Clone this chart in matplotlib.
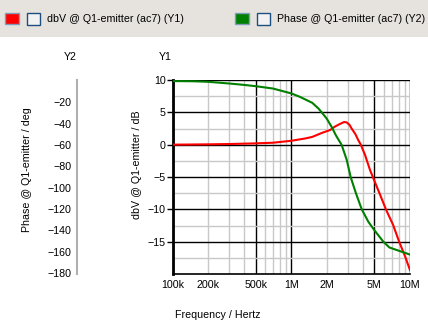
import matplotlib
matplotlib.use("Agg")
import matplotlib.pyplot as plt
from matplotlib.patches import Rectangle
from matplotlib.ticker import FixedLocator, FuncFormatter, NullFormatter

# dB curve (Y1)
freq_db = [1e5, 2e5, 3e5, 5e5, 7e5, 1e6, 1.3e6, 1.5e6, 1.8e6, 2.12e6, 2.32e6,
           2.56e6, 2.78e6, 2.93e6, 3.1e6, 3.22e6, 3.46e6, 3.66e6, 3.85e6, 4.18e6,
           4.6e6, 5e6, 5.6e6, 6.3e6, 7.2e6, 8.1e6, 9.1e6, 1e7]
dbv = [0.0, 0.05, 0.1, 0.2, 0.3, 0.6, 0.95, 1.2, 1.8, 2.26, 2.78,
       3.19, 3.5, 3.44, 3.03, 2.5, 1.65, 0.72, 0.0, -1.6,
       -3.9, -5.55, -7.76, -10.1, -12.4, -15.0, -17.3, -19.4]

# phase curve (Y2)
freq_ph = [1e5, 1.5e5, 2e5, 3e5, 4e5, 5e5, 7e5, 1e6, 1.18e6, 1.5e6, 1.69e6,
           1.8e6, 1.98e6, 2.18e6, 2.39e6, 2.65e6, 2.93e6, 3.16e6, 3.5e6, 3.92e6,
           4.45e6, 5e6, 5.96e6, 6.7e6, 8.2e6, 1e7]
phase = [0.0, -0.2, -0.7, -2.3, -3.6, -4.8, -7.0, -11.6, -14.8, -20.4, -25.7,
         -29.3, -35.0, -42.8, -51.5, -59.7, -74.0, -90.0, -105.2, -120.3,
         -131.9, -139.8, -150.7, -156.1, -159.5, -162.8]

x_major = [1e5, 5e5, 1e6, 5e6, 1e7]
x_minor = [2e5, 3e5, 4e5, 6e5, 7e5, 8e5, 9e5, 2e6, 3e6, 4e6, 6e6, 7e6, 8e6, 9e6]
x_labels = {1e5: "100k", 2e5: "200k", 5e5: "500k", 1e6: "1M", 2e6: "2M", 5e6: "5M", 1e7: "10M"}
y1_ticks = [-15, -10, -5, 0, 5, 10]
y1_minor = [-17.5, -12.5, -7.5, -2.5, 2.5, 7.5]
y2_ticks = [-20, -40, -60, -80, -100, -120, -140, -160, -180]

W, H = 428, 327
plt.rcParams["font.family"] = ["Liberation Sans", "DejaVu Sans"]
plt.rcParams["font.size"] = 7.7
fig = plt.figure(figsize=(W / 100, H / 100), dpi=100)


def fx(px):
    return px / W


def fy(py):
    return 1 - py / H


# legend band
fig.add_artist(Rectangle((0, fy(37)), 1, 37 / H, transform=fig.transFigure,
                         facecolor="#e6e3de", edgecolor="none"))
for (x0, col, txt) in [(5, "#ff0000", "dbV @ Q1-emitter (ac7) (Y1)"),
                       (235, "#008000", "Phase @ Q1-emitter (ac7) (Y2)")]:
    fig.add_artist(Rectangle((fx(x0), fy(24)), 14 / W, 11 / H, transform=fig.transFigure,
                             facecolor=col, edgecolor="#7f9db9", linewidth=1))
    fig.add_artist(Rectangle((fx(x0 + 22), fy(24.5)), 13 / W, 12 / H, transform=fig.transFigure,
                             facecolor="#f2f2f2", edgecolor="#1c4f80", linewidth=1))
    fig.text(fx(x0 + 42), fy(18.5), txt, ha="left", va="center", color="black")

ax = fig.add_axes([fx(172.7), fy(274), (410 - 172.7) / W, (274 - 80) / H])
ax.set_xscale("log")
ax.set_xlim(1e5, 1e7)
ax.set_ylim(-20, 10)

ax.xaxis.set_major_locator(FixedLocator(x_major))
ax.xaxis.set_minor_locator(FixedLocator(x_minor))
fmt = FuncFormatter(lambda v, p: x_labels.get(v, ""))
ax.xaxis.set_major_formatter(fmt)
ax.xaxis.set_minor_formatter(fmt)
ax.tick_params(axis="x", which="both", length=0, pad=4, labelsize=7.7)

ax.yaxis.set_major_locator(FixedLocator(y1_ticks))
ax.yaxis.set_minor_locator(FixedLocator(y1_minor))
ax.yaxis.set_minor_formatter(NullFormatter())
ax.tick_params(axis="y", which="major", length=4, width=1, pad=1)
ax.tick_params(axis="y", which="minor", length=0)

ax.grid(which="major", color="black", linewidth=1)
ax.grid(which="minor", color="#c8c8c8", linewidth=1)
ax.set_axisbelow(True)
for s in ["top", "right"]:
    ax.spines[s].set_visible(False)
ax.spines["left"].set_linewidth(2)
ax.spines["bottom"].set_linewidth(1.2)

ax.plot(freq_db, dbv, color="#ff0000", linewidth=1.5, zorder=3)

ax2 = ax.twinx()
ax2.set_ylim(-181, 1)
ax2.plot(freq_ph, phase, color="#008000", linewidth=1.5, zorder=3)
ax2.spines["right"].set_visible(False)
ax2.spines["top"].set_visible(False)
ax2.spines["bottom"].set_visible(False)
ax2.spines["left"].set_position(("axes", (77 - 172.7) / (410 - 172.7)))
ax2.spines["left"].set_color("#b0b0b0")
ax2.spines["left"].set_linewidth(1.5)
ax2.yaxis.set_ticks_position("left")
ax2.yaxis.set_label_position("left")
ax2.set_yticks(y2_ticks)
ax2.tick_params(axis="y", length=0, pad=4)

fig.text(fx(70), fy(57), "Y2", ha="center", va="center")
fig.text(fx(165), fy(57), "Y1", ha="center", va="center")
fig.text(fx(27), fy(170), "Phase @ Q1-emitter / deg", rotation=90, ha="center", va="center")
fig.text(fx(137), fy(165), "dbV @ Q1-emitter / dB", rotation=90, ha="center", va="center")
fig.text(fx(175), fy(315), "Frequency / Hertz", ha="left", va="center")

fig.savefig("out.png", dpi=100)
